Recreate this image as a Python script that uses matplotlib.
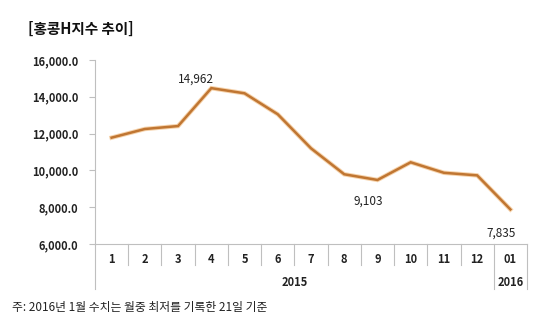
import matplotlib
matplotlib.use("Agg")
import matplotlib.pyplot as plt
import matplotlib.patheffects as pe

plt.rcParams['font.family'] = ['Noto Sans CJK KR', 'DejaVu Sans']

months = ["1", "2", "3", "4", "5", "6", "7", "8", "9", "10", "11", "12", "01"]
years = ["2015", "2016"]
year_spans = [12, 1]
values = [11780, 12250, 12410, 14470, 14190, 13050, 11200, 9790, 9480, 10440, 9870, 9730, 7880]
yticks = [6000, 8000, 10000, 12000, 14000, 16000]
labels = [(3, "14,962"), (8, "9,103"), (12, "7,835")]
title = "[홍콩H지수 추이]"
note = "주: 2016년 1월 수치는 월중 최저를 기록한 21일 기준"

fig = plt.figure(figsize=(5.54, 3.30), dpi=100)
ax = fig.add_axes([95/554, 1-244/330, 432/554, 184/330])

x = list(range(len(values)))
ax.plot(x, values, color='#C07632', lw=1.8, solid_joinstyle='miter',
        path_effects=[pe.Stroke(linewidth=3.2, foreground='#F6D3AC'), pe.Normal()])

ax.set_xlim(-0.5, len(values)-0.5)
ax.set_ylim(6000, 16000)
ax.set_yticks(yticks)
ax.set_yticklabels([f"{v:,.1f}" for v in yticks], fontsize=8, fontweight='bold', color='#222222')
ax.tick_params(axis='y', length=4, color='#BFBFBF', pad=8)
ax.set_xticks([])
for s in ['top', 'right']:
    ax.spines[s].set_visible(False)
ax.spines['left'].set_color('#BFBFBF')
ax.spines['bottom'].set_color('#BFBFBF')

tr = ax.get_xaxis_transform()
gray = '#BFBFBF'
for i, m in enumerate(months):
    ax.text(i, -0.082, m, transform=tr, ha='center', va='center', fontsize=8,
            fontweight='bold', color='#222222')
bounds = [0]
for s in year_spans:
    bounds.append(bounds[-1] + s)
for i in range(len(months) + 1):
    ybot = -0.245 if i in bounds else -0.114
    ax.plot([i-0.5, i-0.5], [0, ybot], transform=tr, color=gray, lw=0.8, clip_on=False)
for yname, a, b in zip(years, bounds[:-1], bounds[1:]):
    ax.text((a + b - 1) / 2, -0.207, yname, transform=tr, ha='center', va='center',
            fontsize=8, fontweight='bold', color='#222222')

offsets = {3: (-15, 9), 8: (-9, -21), 12: (-9, -24)}
for idx, txt in labels:
    dx, dy = offsets[idx]
    ax.annotate(txt, (idx, values[idx]), xytext=(dx, dy), textcoords='offset pixels',
                ha='center', va='center', fontsize=8.5, color='#222222')

fig.text(28/554, 1-29/330, title, fontsize=10.5, fontweight='bold', ha='left', va='center', color='#111111')
fig.text(12/554, 1-307/330, note, fontsize=8.5, ha='left', va='center', color='#222222')

fig.savefig("out.png", dpi=100)
